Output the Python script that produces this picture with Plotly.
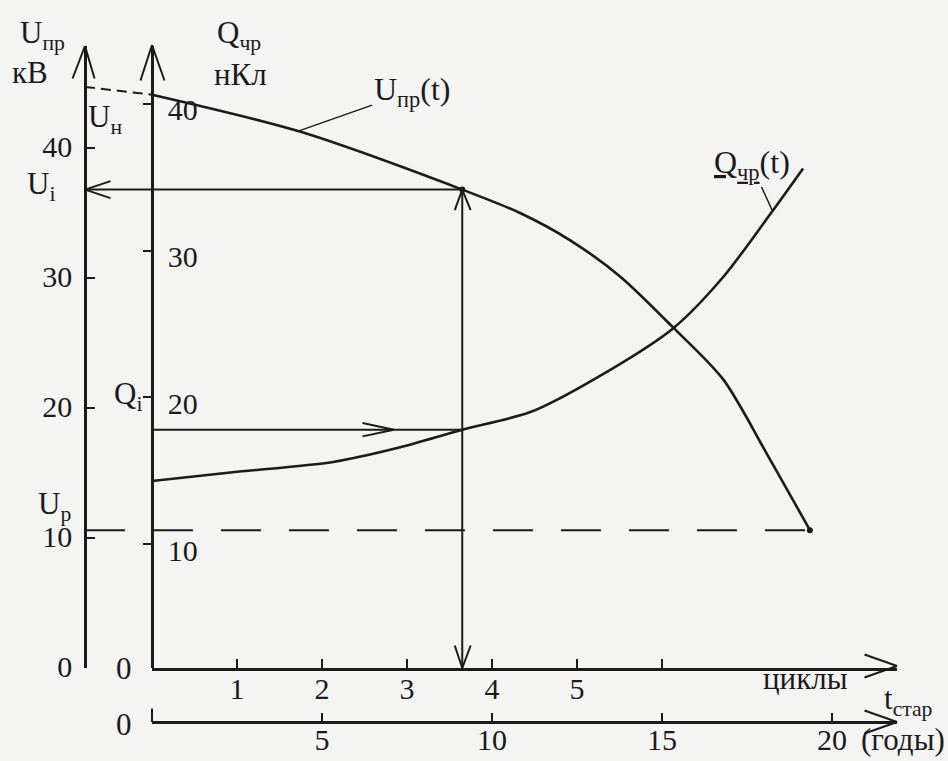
import plotly.graph_objects as go

# U_пр(t): пробивное напряжение, кВ
t_u = [0, 1.72, 3.65, 4.33, 4.92, 5.51, 6.13, 6.72, 7.24, 7.74]
u_pr = [44.1, 41.3, 36.8, 35.0, 32.9, 30.1, 26.2, 22.2, 16.4, 10.6]

# Q_чр(t): заряд частичных разрядов, нКл
t_q = [0, 0.95, 2.13, 2.92, 3.65, 4.45, 5.19, 6.13, 6.72, 7.3, 7.66]
q_chr = [14.3, 14.9, 15.6, 16.6, 17.8, 19.0, 21.2, 24.7, 28.2, 32.7, 35.6]

u_n = 44.7      # U_н
u_p = 10.6      # U_р
t_i = 3.65      # момент t_i, циклы
u_i = 36.8      # U_i
q_i = 17.8      # Q_i

u_ticks = [0, 10, 20, 30, 40]
q_ticks = [10, 20, 30, 40]
cycle_ticks = [1, 2, 3, 4, 5, 6]
cycle_labels = ['1', '2', '3', '4', '5', '']
year_ticks = [5, 10, 15, 20]
years_per_cycle = 2.5

# геометрия листа, px
W, H = 948, 761
X_U, X_Q, X_END = 85, 152, 897
Y_T, Y_YEARS, Y_TOP = 668, 722, 46
PX_CYCLE = 85
PX_U, U0 = 13.0, 668      # U = 0 на оси t
PX_Q, Q0 = 14.68, 691     # шкала Q нарисована от руки, ноль чуть ниже оси t

INK = '#1b1b1b'
FONT = 'Liberation Serif'

t_max = (X_END - X_Q) / PX_CYCLE
t_axis_u = -(X_Q - X_U) / PX_CYCLE
u_range = [(U0 - Y_T) / PX_U, (U0 - Y_TOP) / PX_U]
q_range = [(Q0 - Y_T) / PX_Q, (Q0 - Y_TOP) / PX_Q]


def px(x):
    return x / W


def py(y):
    return 1 - y / H


fig = go.Figure()

line = dict(color=INK, width=2.6)
fig.add_trace(go.Scatter(x=t_u, y=u_pr, mode='lines', line=dict(line, shape='spline', smoothing=0.8)))
fig.add_trace(go.Scatter(x=[t_axis_u, t_u[0]], y=[u_n, u_pr[0]], mode='lines',
                         line=dict(color=INK, width=2, dash='10px,6px')))
fig.add_trace(go.Scatter(x=t_q, y=q_chr, mode='lines', yaxis='y2',
                         line=dict(line, shape='spline', smoothing=0.8)))
fig.add_trace(go.Scatter(x=[t_axis_u, t_u[-1]], y=[u_p, u_p], mode='lines',
                         line=dict(color=INK, width=2, dash='40px,28px')))
fig.add_trace(go.Scatter(x=[t_axis_u, t_i], y=[u_i, u_i], mode='lines', line=dict(color=INK, width=2)))
fig.add_trace(go.Scatter(x=[t_i, t_i], y=[0, u_i], mode='lines', line=dict(color=INK, width=2)))
fig.add_trace(go.Scatter(x=[0, t_i], y=[q_i, q_i], mode='lines', yaxis='y2', line=dict(color=INK, width=2)))
fig.add_trace(go.Scatter(x=[t_i, t_u[-1]], y=[u_i, u_p], mode='markers', marker=dict(color=INK, size=6)))
# пустые трассы, чтобы оси x2 и x3 были нарисованы
fig.add_trace(go.Scatter(x=[None], y=[None], xaxis='x2', yaxis='y'))
fig.add_trace(go.Scatter(x=[None], y=[None], xaxis='x3', yaxis='y'))


def chevron(x, y, arms, xref='paper', yref='paper'):
    for ax, ay in arms:
        fig.add_annotation(x=x, y=y, xref=xref, yref=yref, text='', showarrow=True,
                           arrowhead=0, arrowwidth=2, arrowcolor=INK, ax=ax, ay=ay)


# стрелки осей
chevron(px(X_U), py(Y_TOP), [(-13, 34), (10, 34)])
chevron(px(X_Q), py(Y_TOP - 1), [(-12, 37), (13, 37)])
chevron(px(X_END), py(Y_T - 2), [(-34, -12), (-34, 12)])
chevron(px(X_END), py(Y_YEARS), [(-34, -12), (-34, 12)])
chevron(0, py(Y_YEARS), [(0, -15)], xref='x3')
# стрелки построения
chevron(t_axis_u, u_i, [(27, -9), (27, 9)], xref='x', yref='y')
chevron(t_i * 0.78, q_i, [(-33, -7), (-33, 7)], xref='x', yref='y2')
chevron(t_i, u_i, [(-8, 22), (9, 22)], xref='x', yref='y')
chevron(t_i, 0, [(-8, -24), (9, -24)], xref='x', yref='y')

txt = dict(family=FONT, size=31, color=INK)


def label(text, x, y, xref='paper', yref='paper', **kw):
    kw.setdefault('xanchor', 'center')
    kw.setdefault('yanchor', 'middle')
    fig.add_annotation(x=x, y=y, xref=xref, yref=yref, text=text, showarrow=False,
                       font=txt, **kw)


label('U<sub>пр</sub>', px(42), py(35))
label('кВ', px(30), py(73))
label('Q<sub>чр</sub>', px(239), py(35))
label('нКл', px(240), py(75))
label('U<sub>н</sub>', t_axis_u, u_n, 'x', 'y', xanchor='left', yanchor='top', xshift=1, yshift=-10)
label('U<sub>i</sub>', t_axis_u, u_i, 'x', 'y', xanchor='right', xshift=-28, yshift=4)
label('U<sub>p</sub>', t_axis_u, u_p, 'x', 'y', xanchor='right', xshift=-12, yshift=24)
label('Q<sub>i</sub>', 0, q_i, 'x', 'y2', xanchor='right', xshift=-8, yshift=34)
label('0', 0, 0, 'x', 'y', xanchor='right', xshift=-18)
label('0', 0, py(Y_YEARS), 'x3', 'paper', xanchor='right', xshift=-18, yshift=-2)
label('циклы', px(805), py(678))
label('t<sub>стар</sub>', px(882), py(701), xanchor='left')
label('(годы)', px(947), py(739), xanchor='right')

curve_font = dict(family=FONT, size=32, color=INK)
fig.add_annotation(x=t_u[1], y=u_pr[1], xref='x', yref='y', text='U<sub>пр</sub>(t)',
                   showarrow=True, arrowhead=0, arrowwidth=1.5, arrowcolor=INK,
                   ax=114, ay=-40, font=curve_font)
fig.add_annotation(x=t_q[9], y=q_chr[9], xref='x', yref='y2', text='<u>Q<sub>чр</sub></u>(t)',
                   showarrow=True, arrowhead=0, arrowwidth=1.5, arrowcolor=INK,
                   ax=-21, ay=-46, font=curve_font)

axis_line = dict(showline=True, linecolor=INK, linewidth=2.5, showgrid=False, zeroline=False,
                 ticks='inside', tickcolor=INK, tickwidth=2, fixedrange=True,
                 tickfont=dict(family=FONT, size=30, color=INK))
y_domain = [py(Y_T), py(Y_TOP)]

fig.update_layout(
    width=W, height=H, autosize=False,
    margin=dict(l=0, r=0, t=0, b=0, pad=0, autoexpand=False),
    paper_bgcolor='#f4f4f2', plot_bgcolor='rgba(0,0,0,0)',
    showlegend=False,
    xaxis=dict(domain=[px(X_U), px(X_END)], range=[t_axis_u, t_max], visible=False,
               anchor='y', fixedrange=True),
    xaxis2=dict(axis_line, domain=[px(X_Q), px(X_END)], range=[0, t_max], anchor='y',
                tickvals=cycle_ticks, ticktext=cycle_labels, ticklen=9, ticklabelstandoff=-8),
    xaxis3=dict(axis_line, domain=[px(X_Q), px(X_END)], range=[0, t_max * years_per_cycle],
                anchor='free', position=py(Y_YEARS), tickvals=year_ticks, ticklen=8,
                ticklabelstandoff=-10),
    yaxis=dict(axis_line, domain=y_domain, range=u_range, anchor='free', position=px(X_U),
               side='left', tickvals=u_ticks, ticklen=8, ticklabelstandoff=6, ticklabelshift=-2),
    yaxis2=dict(axis_line, range=q_range, overlaying='y', anchor='free', position=px(X_Q),
                side='right', tickvals=q_ticks, ticklen=8, ticklabelstandoff=8, ticklabelshift=6),
)

# страница без полей, чтобы рисунок начинался в левом верхнем углу окна
fig.write_html('out.html', config={'displayModeBar': False},
               post_script="document.body.style.margin='0';"
                           "document.body.style.overflow='hidden';")
